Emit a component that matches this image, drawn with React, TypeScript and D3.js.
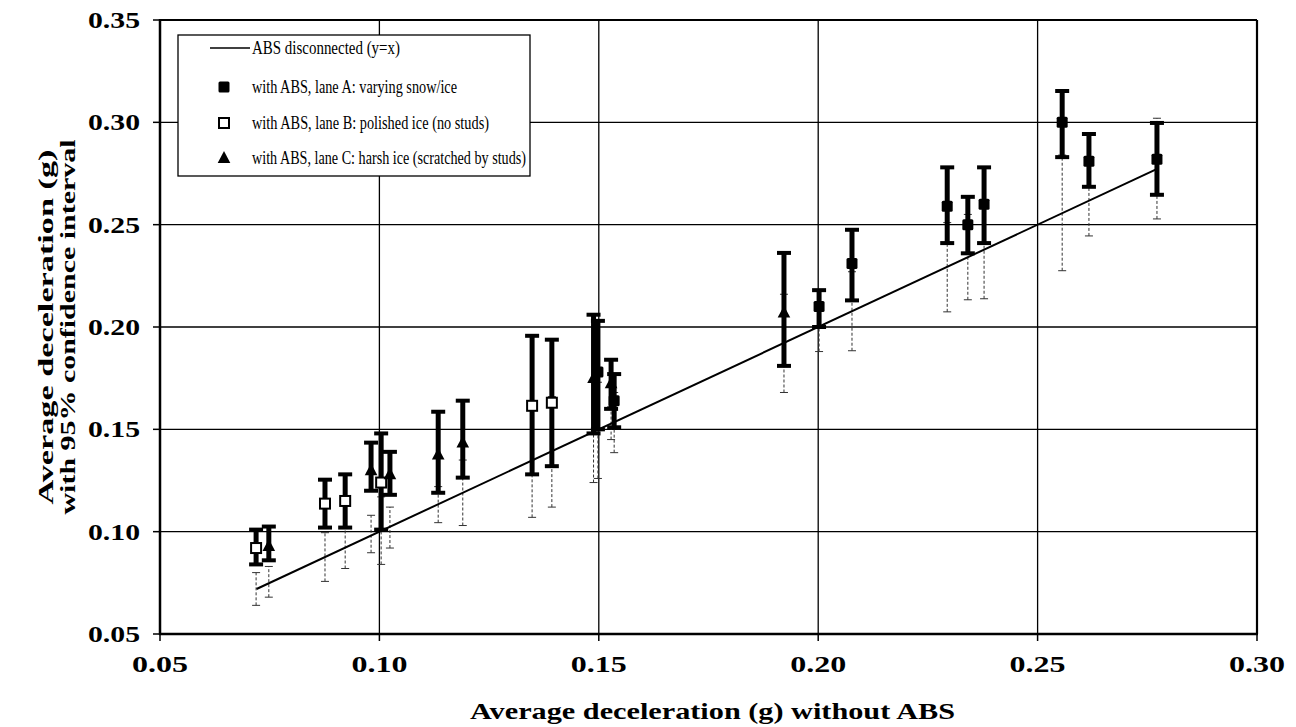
import React from "react";
import * as d3 from "d3";

// ---------- data ----------
const xTicks = [0.05, 0.1, 0.15, 0.2, 0.25, 0.3];
const yTicks = [0.05, 0.1, 0.15, 0.2, 0.25, 0.3, 0.35];

// lane A: varying snow/ice (filled squares)
const laneAX = [0.1498, 0.1535, 0.2002, 0.2077, 0.2294, 0.2341, 0.2378, 0.2556, 0.2617, 0.2772];
const laneAY = [0.178, 0.164, 0.21, 0.231, 0.259, 0.25, 0.26, 0.3, 0.281, 0.282];
const laneALo = [0.15, 0.151, 0.2, 0.213, 0.241, 0.236, 0.241, 0.283, 0.2685, 0.2646];
const laneAHi = [0.203, 0.177, 0.218, 0.2475, 0.278, 0.2636, 0.278, 0.3153, 0.2943, 0.2997];
const laneACiLo = [0.126, 0.1386, 0.188, 0.1884, 0.2074, 0.2133, 0.2138, 0.2275, 0.2445, 0.2528];
const laneACiHi = [0.173, 0.168, 0.212, 0.227, 0.251, 0.255, 0.262, 0.284, 0.279, 0.302];

// lane B: polished ice (open squares)
const laneBX = [0.0719, 0.0876, 0.0922, 0.1004, 0.1348, 0.1393];
const laneBY = [0.092, 0.1137, 0.115, 0.124, 0.1615, 0.163];
const laneBLo = [0.084, 0.102, 0.102, 0.101, 0.128, 0.132];
const laneBHi = [0.101, 0.1254, 0.128, 0.148, 0.1957, 0.1938];
const laneBCiLo = [0.064, 0.0757, 0.082, 0.084, 0.107, 0.112];
const laneBCiHi = [0.08, 0.0995, 0.1024, 0.117, 0.162, 0.166];

// lane C: harsh ice (triangles)
const laneCX = [0.0748, 0.0981, 0.1024, 0.1134, 0.119, 0.1488, 0.1528, 0.1922];
const laneCY = [0.093, 0.13, 0.128, 0.1376, 0.1435, 0.175, 0.1725, 0.207];
const laneCLo = [0.086, 0.12, 0.118, 0.119, 0.1264, 0.148, 0.16, 0.181];
const laneCHi = [0.1025, 0.1435, 0.139, 0.1586, 0.164, 0.206, 0.184, 0.2362];
const laneCCiLo = [0.068, 0.0897, 0.092, 0.1044, 0.103, 0.124, 0.145, 0.168];
const laneCCiHi = [0.083, 0.108, 0.112, 0.122, 0.135, 0.173, 0.161, 0.216];

const refLine = [0.072, 0.277];

const legendLabels = [
  "ABS disconnected (y=x)",
  "with ABS, lane A: varying snow/ice",
  "with ABS, lane B: polished ice (no studs)",
  "with ABS, lane C: harsh ice (scratched by studs)",
];

const xTitle = "Average deceleration  (g) without ABS";
const yTitle1 = "Average deceleration  (g)";
const yTitle2 = "with 95% confidence interval";

type Pt = { x: number; y: number; lo: number; hi: number; ciLo: number; ciHi: number; kind: string };

function build(xs: number[], ys: number[], lo: number[], hi: number[], cl: number[], ch: number[], kind: string): Pt[] {
  return xs.map((v, i) => ({ x: v, y: ys[i], lo: lo[i], hi: hi[i], ciLo: cl[i], ciHi: ch[i], kind }));
}

const serif = '"Liberation Serif", "Times New Roman", Times, serif';

function Marker({ kind, cx, cy }: { kind: string; cx: number; cy: number }) {
  if (kind === "A") return <rect x={cx - 5.5} y={cy - 5.5} width={11} height={11} rx={1.5} fill="#000" />;
  if (kind === "B")
    return <rect x={cx - 5} y={cy - 5} width={10} height={10} fill="#fff" stroke="#000" strokeWidth={2} />;
  const s = 7;
  return <path d={`M${cx},${cy - s} L${cx + s * 0.9},${cy + s * 0.7} L${cx - s * 0.9},${cy + s * 0.7} Z`} fill="#000" />;
}

export default function App() {
  const W = 1296;
  const H = 727;
  const x = d3.scaleLinear().domain([0.05, 0.3]).range([160, 1257]);
  const y = d3.scaleLinear().domain([0.05, 0.35]).range([634, 20]);

  const pts: Pt[] = [
    ...build(laneAX, laneAY, laneALo, laneAHi, laneACiLo, laneACiHi, "A"),
    ...build(laneBX, laneBY, laneBLo, laneBHi, laneBCiLo, laneBCiHi, "B"),
    ...build(laneCX, laneCY, laneCLo, laneCHi, laneCCiLo, laneCCiHi, "C"),
  ];

  const line = d3
    .line<number>()
    .x((d) => x(d))
    .y((d) => y(d));

  const [x0, x1] = x.range();
  const [y0, y1] = y.range();

  // legend geometry
  const lgX = 178;
  const lgY = 35;
  const lgW = 352;
  const lgH = 141;
  const rowY = [48, 87, 123, 158];
  const legendLen = [148, 205, 237, 274];

  return (
    <svg
      width={W}
      height={H}
      style={{ position: "absolute", left: 0, top: 0, background: "#fff", fontFamily: serif }}
    >
      <rect x={0} y={0} width={W} height={H} fill="#fff" />
      {/* grid */}
      {yTicks.map((t) => (
        <line key={"gy" + t} x1={x0} x2={x1} y1={y(t)} y2={y(t)} stroke="#000" strokeWidth={1.3} />
      ))}
      {xTicks.map((t) => (
        <line key={"gx" + t} x1={x(t)} x2={x(t)} y1={y0} y2={y1} stroke="#000" strokeWidth={1.3} />
      ))}
      {/* frame */}
      <line x1={x0} x2={x0} y1={y0 + 1} y2={y1 - 1} stroke="#000" strokeWidth={2.5} />
      <line x1={x0 - 1} x2={x1 + 1} y1={y0} y2={y0} stroke="#000" strokeWidth={2.5} />
      <line x1={x1} x2={x1} y1={y0} y2={y1} stroke="#000" strokeWidth={2.2} />
      <line x1={x0} x2={x1} y1={y1} y2={y1} stroke="#000" strokeWidth={2.2} />
      {/* ticks */}
      {yTicks.map((t) => (
        <line key={"ty" + t} x1={x0 - 7} x2={x0} y1={y(t)} y2={y(t)} stroke="#000" strokeWidth={1.5} />
      ))}
      {xTicks.map((t) => (
        <line key={"tx" + t} x1={x(t)} x2={x(t)} y1={y0} y2={y0 + 7} stroke="#000" strokeWidth={1.5} />
      ))}
      {/* tick labels */}
      {yTicks.map((t) => (
        <text
          key={"ly" + t}
          x={x0 - 20}
          y={y(t)}
          textAnchor="end"
          dominantBaseline="central"
          fontWeight="bold"
          fontSize={24}
          textLength={52}
          lengthAdjust="spacingAndGlyphs"
        >
          {t.toFixed(2)}
        </text>
      ))}
      {xTicks.map((t) => (
        <text
          key={"lx" + t}
          x={x(t)}
          y={y0 + 38}
          textAnchor="middle"
          fontWeight="bold"
          fontSize={24}
          textLength={56}
          lengthAdjust="spacingAndGlyphs"
        >
          {t.toFixed(2)}
        </text>
      ))}
      {/* axis titles */}
      <text
        x={(x0 + x1) / 2 + 4}
        y={719}
        textAnchor="middle"
        fontWeight="bold"
        fontSize={23}
        textLength={485}
        lengthAdjust="spacingAndGlyphs"
      >
        {xTitle}
      </text>
      <text
        transform={`translate(46, ${(y0 + y1) / 2}) rotate(-90)`}
        textAnchor="middle"
        dominantBaseline="central"
        fontWeight="bold"
        fontSize={21}
        textLength={355}
        lengthAdjust="spacingAndGlyphs"
      >
        {yTitle1}
      </text>
      <text
        transform={`translate(68, ${(y0 + y1) / 2}) rotate(-90)`}
        textAnchor="middle"
        dominantBaseline="central"
        fontWeight="bold"
        fontSize={21}
        textLength={375}
        lengthAdjust="spacingAndGlyphs"
      >
        {yTitle2}
      </text>

      {/* dashed CI of ABS-disconnected */}
      {pts.map((p, i) => (
        <g key={"ci" + i} stroke="#333" strokeWidth={1}>
          <line x1={x(p.x)} x2={x(p.x)} y1={y(p.ciLo)} y2={y(p.ciHi)} strokeDasharray="3,2" />
          <line x1={x(p.x) - 4} x2={x(p.x) + 4} y1={y(p.ciLo)} y2={y(p.ciLo)} />
          <line x1={x(p.x) - 4} x2={x(p.x) + 4} y1={y(p.ciHi)} y2={y(p.ciHi)} />
        </g>
      ))}

      {/* y = x reference */}
      <path d={line(refLine) || ""} stroke="#000" strokeWidth={2} fill="none" />

      {/* thick CI with ABS */}
      {pts.map((p, i) => (
        <g key={"eb" + i} stroke="#000">
          <line x1={x(p.x)} x2={x(p.x)} y1={y(p.lo)} y2={y(p.hi)} strokeWidth={5} />
          <line x1={x(p.x) - 7} x2={x(p.x) + 7} y1={y(p.lo)} y2={y(p.lo)} strokeWidth={4} />
          <line x1={x(p.x) - 7} x2={x(p.x) + 7} y1={y(p.hi)} y2={y(p.hi)} strokeWidth={4} />
        </g>
      ))}
      {pts.map((p, i) => (
        <Marker key={"m" + i} kind={p.kind} cx={x(p.x)} cy={y(p.y)} />
      ))}

      {/* legend */}
      <rect x={lgX} y={lgY} width={lgW} height={lgH} fill="#fff" stroke="#000" strokeWidth={1.3} />
      <line x1={210} x2={250} y1={rowY[0]} y2={rowY[0]} stroke="#000" strokeWidth={1.3} />
      <Marker kind="A" cx={224} cy={rowY[1]} />
      <Marker kind="B" cx={224} cy={rowY[2]} />
      <Marker kind="C" cx={224} cy={rowY[3]} />
      {legendLabels.map((l, i) => (
        <text
          key={"lg" + i}
          x={252}
          y={rowY[i]}
          dominantBaseline="central"
          fontSize={18}
          textLength={legendLen[i]}
          lengthAdjust="spacingAndGlyphs"
        >
          {l}
        </text>
      ))}
    </svg>
  );
}
